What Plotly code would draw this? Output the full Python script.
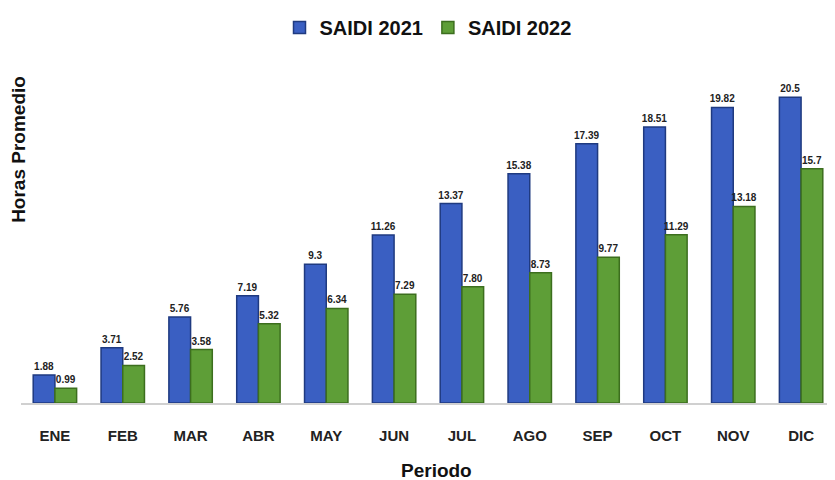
import plotly.graph_objects as go

months = ["ENE", "FEB", "MAR", "ABR", "MAY", "JUN", "JUL", "AGO", "SEP", "OCT", "NOV", "DIC"]
saidi_2021 = [1.88, 3.71, 5.76, 7.19, 9.3, 11.26, 13.37, 15.38, 17.39, 18.51, 19.82, 20.5]
saidi_2022 = [0.99, 2.52, 3.58, 5.32, 6.34, 7.29, 7.80, 8.73, 9.77, 11.29, 13.18, 15.7]
labels_2021 = ["1.88", "3.71", "5.76", "7.19", "9.3", "11.26", "13.37", "15.38", "17.39", "18.51", "19.82", "20.5"]
labels_2022 = ["0.99", "2.52", "3.58", "5.32", "6.34", "7.29", "7.80", "8.73", "9.77", "11.29", "13.18", "15.7"]

FONT = "Liberation Sans"

fig = go.Figure()
fig.add_trace(go.Bar(
    name="SAIDI 2021", x=months, y=saidi_2021, text=labels_2021,
    textposition="outside", cliponaxis=False, constraintext="none",
    textfont=dict(family=FONT, size=10, color="#222222", weight="bold"),
    marker=dict(color="#3A5FC2", line=dict(color="#1F3A80", width=1.5)),
))
fig.add_trace(go.Bar(
    name="SAIDI 2022", x=months, y=saidi_2022, text=labels_2022,
    textposition="outside", cliponaxis=False, constraintext="none",
    textfont=dict(family=FONT, size=10, color="#222222", weight="bold"),
    marker=dict(color="#5E9E37", line=dict(color="#3C6E1E", width=1.5)),
))

fig.update_layout(
    width=827, height=472,
    margin=dict(l=13, r=0, t=52, b=77, autoexpand=False),
    paper_bgcolor="white", plot_bgcolor="white",
    barmode="group", bargap=0.36, bargroupgap=0.0,
    showlegend=True,
    legend=dict(orientation="h", x=0.5, xanchor="center", y=1.0, yref="container", yanchor="top",
                font=dict(family=FONT, size=20, color="#111111", weight="bold"),
                itemwidth=30, traceorder="normal"),
    xaxis=dict(showline=True, linecolor="#D0D0D0", linewidth=1.5, ticks="", automargin=False,
               ticklabelstandoff=18,
               tickfont=dict(family=FONT, size=15, color="#222222", weight="bold")),
    yaxis=dict(range=[0, 23], showgrid=False, showticklabels=False, zeroline=False, ticks="",
               automargin=False),
    annotations=[
        dict(text="<b>Horas Promedio</b>", textangle=-90, xref="paper", yref="paper",
             x=0, xshift=-2, y=0.738, xanchor="center", yanchor="middle", showarrow=False,
             font=dict(family=FONT, size=19, color="#111111")),
        dict(text="<b>Periodo</b>", xref="paper", yref="paper",
             x=0.51, y=0, yshift=-67, xanchor="center", yanchor="middle", showarrow=False,
             font=dict(family=FONT, size=19, color="#111111")),
    ],
)

fig.write_html("out.html")
